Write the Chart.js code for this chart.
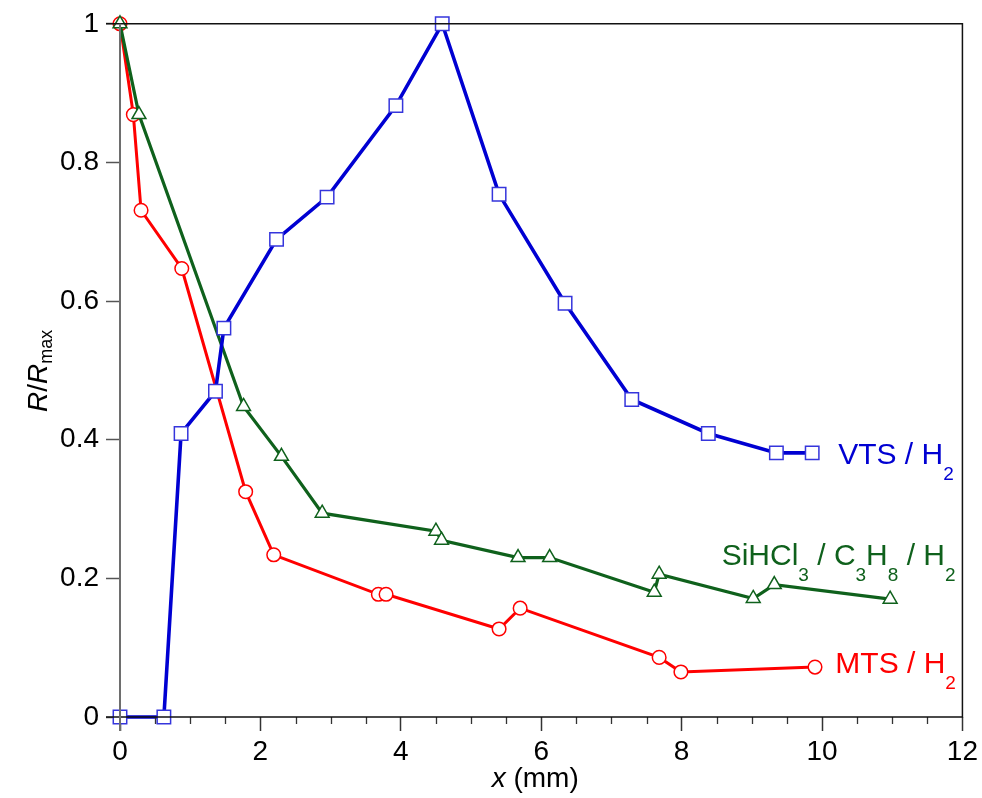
<!DOCTYPE html>
<html>
<head>
<meta charset="utf-8">
<script src="https://cdn.jsdelivr.net/npm/chart.js@4"></script>
<style>
  html, body { margin: 0; padding: 0; background: #fff; }
</style>
</head>
<body>
<canvas id="chart" width="982" height="798"></canvas>
<script>
// normalised growth rate vs. distance along the susceptor
const vtsX = [0, 0.625, 0.87, 1.36, 1.48, 2.23, 2.95, 3.93, 4.59, 5.40, 6.34, 7.29, 8.38, 9.35, 9.86];
const vtsY = [0, 0, 0.409, 0.470, 0.561, 0.689, 0.750, 0.882, 1.0, 0.754, 0.597, 0.458, 0.409, 0.381, 0.381];

const mtsX = [0, 0.19, 0.30, 0.88, 1.79, 2.19, 3.68, 3.79, 5.40, 5.70, 7.68, 7.99, 9.90];
const mtsY = [1.0, 0.869, 0.731, 0.647, 0.325, 0.234, 0.177, 0.177, 0.127, 0.157, 0.086, 0.065, 0.072];

const sihX = [0, 0.27, 1.76, 2.30, 2.88, 4.50, 4.58, 5.67, 6.12, 7.61, 7.68, 9.02, 9.32, 10.97];
const sihY = [1.0, 0.869, 0.448, 0.376, 0.294, 0.268, 0.255, 0.230, 0.230, 0.180, 0.206, 0.171, 0.191, 0.170];

const xTicks = [0, 2, 4, 6, 8, 10, 12];
const yTicks = [0, 0.2, 0.4, 0.6, 0.8, 1];

const BLUE = '#0000d2';
const RED = '#ff0000';
const GREEN = '#0f611c';
const FONT = '"Liberation Sans", Arial, sans-serif';

function pts(xs, ys) {
  return xs.map((x, i) => ({ x, y: ys[i] }));
}

// text with sub-scripts and italic runs
function drawRuns(ctx, x, y, runs, color, size, subSize, subDrop) {
  ctx.fillStyle = color;
  ctx.textBaseline = 'alphabetic';
  ctx.textAlign = 'left';
  let cx = x;
  runs.forEach(r => {
    const s = r.sub ? subSize : size;
    ctx.font = (r.it ? 'italic ' : '') + s + 'px ' + FONT;
    ctx.fillText(r.t, cx, r.sub ? y + subDrop : y);
    cx += ctx.measureText(r.t).width;
  });
  return cx - x;
}

function runsWidth(ctx, runs, size, subSize) {
  let w = 0;
  runs.forEach(r => {
    ctx.font = (r.it ? 'italic ' : '') + (r.sub ? subSize : size) + 'px ' + FONT;
    w += ctx.measureText(r.t).width;
  });
  return w;
}

const seriesLabels = [
  { x: 10.23, y: 0.365, color: BLUE, runs: [{ t: 'VTS / H' }, { t: '2', sub: true }] },
  { x: 8.57, y: 0.219, color: GREEN, runs: [{ t: 'SiHCl' }, { t: '3', sub: true }, { t: ' / C' }, { t: '3', sub: true }, { t: 'H' }, { t: '8', sub: true }, { t: ' / H' }, { t: '2', sub: true }] },
  { x: 10.19, y: 0.063, color: RED, runs: [{ t: 'MTS / H' }, { t: '2', sub: true }] }
];

const framePlugin = {
  id: 'frame',
  afterDraw(chart) {
    const { ctx, chartArea: a, scales } = chart;
    const xs = scales.x;
    ctx.save();

    // minor ticks every 0.5 mm
    ctx.strokeStyle = '#333';
    ctx.lineWidth = 1.3;
    for (let v = 0.5; v < 12; v += 0.5) {
      if (v % 2 === 0) continue;
      const px = Math.round(xs.getPixelForValue(v)) + 0.5;
      ctx.beginPath();
      ctx.moveTo(px, a.bottom);
      ctx.lineTo(px, a.bottom + 7);
      ctx.stroke();
    }

    // box
    ctx.strokeStyle = '#111';
    ctx.lineWidth = 1.5;
    ctx.beginPath();
    ctx.moveTo(a.left - 14, a.bottom);
    ctx.lineTo(a.right, a.bottom);
    ctx.lineTo(a.right, a.top);
    ctx.lineTo(a.left - 14, a.top);
    ctx.stroke();
    ctx.strokeStyle = '#6e6e6e';
    ctx.lineWidth = 2;
    ctx.beginPath();
    ctx.moveTo(a.left, a.top);
    ctx.lineTo(a.left, a.bottom + 14);
    ctx.stroke();

    // series labels
    seriesLabels.forEach(l => {
      drawRuns(ctx, xs.getPixelForValue(l.x), scales.y.getPixelForValue(l.y), l.runs, l.color, 30, 19, 16);
    });

    // axis titles
    const xt = [{ t: 'x', it: true }, { t: ' (mm)' }];
    const w = runsWidth(ctx, xt, 28, 18);
    drawRuns(ctx, (a.left + a.right) / 2 - 6 - w / 2, 787, xt, '#000', 28, 18, 0);

    ctx.translate(47, 412);
    ctx.rotate(-Math.PI / 2);
    drawRuns(ctx, 0, 0, [{ t: 'R', it: true }, { t: '/' }, { t: 'R', it: true }, { t: 'max', sub: true }], '#000', 28, 18, 5);
    ctx.restore();
  }
};

function series(label, xs, ys, color, markColor, style, radius, width, order) {
  return {
    label,
    data: pts(xs, ys),
    borderColor: color,
    borderWidth: width,
    backgroundColor: '#fff',
    pointStyle: style,
    pointRadius: radius,
    pointHoverRadius: radius,
    pointBorderColor: markColor,
    pointBackgroundColor: '#fff',
    pointBorderWidth: 1.5,
    showLine: true,
    fill: false,
    tension: 0,
    clip: false,
    order
  };
}

const fmt = v => String(+Number(v).toFixed(1));

new Chart(document.getElementById('chart'), {
  type: 'scatter',
  data: {
    datasets: [
      series('VTS / H2', vtsX, vtsY, BLUE, '#3535dc', 'rect', 9.5, 3.6, 0),
      series('SiHCl3 / C3H8 / H2', sihX, sihY, GREEN, GREEN, 'triangle', 8, 3.2, 1),
      series('MTS / H2', mtsX, mtsY, RED, RED, 'circle', 6.8, 3, 2)
    ]
  },
  options: {
    responsive: false,
    animation: false,
    layout: { padding: { top: 22, right: 17, left: 0, bottom: 0 } },
    plugins: {
      legend: { display: false },
      tooltip: { enabled: false }
    },
    scales: {
      x: {
        type: 'linear',
        min: 0,
        max: 12,
        afterFit(s) { s.height = 81; },
        afterBuildTicks(s) { s.ticks = xTicks.map(v => ({ value: v })); },
        border: { display: false },
        grid: { drawOnChartArea: false, drawTicks: true, tickLength: 14, tickColor: '#333', tickWidth: 1.5 },
        ticks: { color: '#000', padding: 4, maxRotation: 0, autoSkip: false, callback: fmt, font: { family: FONT, size: 28 } }
      },
      y: {
        type: 'linear',
        min: 0,
        max: 1,
        afterFit(s) { s.width = 120; },
        afterBuildTicks(s) { s.ticks = yTicks.map(v => ({ value: v })); },
        border: { display: false },
        grid: { drawOnChartArea: false, drawTicks: true, tickLength: 14, tickColor: '#555', tickWidth: 1.5 },
        ticks: { color: '#000', padding: 7, autoSkip: false, callback: fmt, font: { family: FONT, size: 28 } }
      }
    }
  },
  plugins: [framePlugin]
});
</script>
</body>
</html>
